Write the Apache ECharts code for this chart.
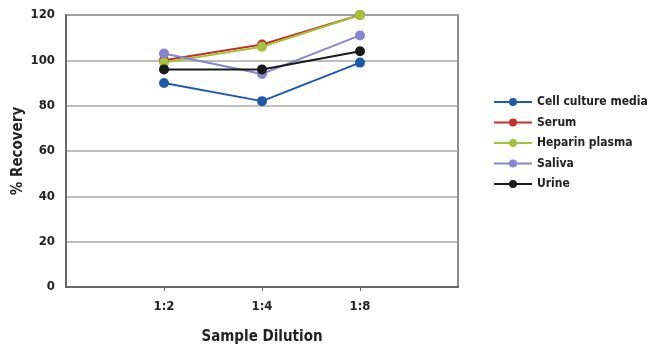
<!DOCTYPE html>
<html><head><meta charset="utf-8">
<script src="https://cdn.jsdelivr.net/npm/echarts@6/dist/echarts.min.js"></script>
<style>html,body{margin:0;padding:0;background:#fff}#c{width:650px;height:355px}</style>
</head><body><div id="c"></div>
<script>
const categories = ['', '1:2', '1:4', '1:8', ''];
const seriesNames = ['Cell culture media', 'Serum', 'Heparin plasma', 'Saliva', 'Urine'];
const cellCulture = [null, 90, 82, 99, null];
const serum = [null, 100, 107, 120, null];
const heparin = [null, 99, 106, 120, null];
const saliva = [null, 103, 94, 111, null];
const urine = [null, 96, 96, 104, null];
const yTicks = [0, 20, 40, 60, 80, 100, 120];
const colors = ['#1f5aa6', '#c0312b', '#a6c23a', '#8585cc', '#1a1a1a'];
const allData = [cellCulture, serum, heparin, saliva, urine];
const FONT = '"Liberation Sans Narrow", "DejaVu Sans Condensed", sans-serif';

const chart = echarts.init(document.getElementById('c'));
chart.setOption({
  animation: false,
  textStyle: { fontFamily: FONT },
  grid: { left: 66, top: 15, width: 392, height: 272, containLabel: false, outerBoundsMode: 'none',
    show: true, borderColor: '#666', borderWidth: 1.5, backgroundColor: 'transparent' },
  legend: {
    orient: 'vertical', left: 488, top: 91,
    itemWidth: 38, itemHeight: 10, itemGap: 8.5,
    textStyle: { fontFamily: FONT, fontWeight: 'bold', fontSize: 12, color: '#222' },
    data: seriesNames
  },
  xAxis: {
    type: 'category', data: categories, boundaryGap: false,
    name: 'Sample Dilution', nameLocation: 'middle', nameGap: 43, nameMoveOverlap: false,
    nameTextStyle: { fontFamily: FONT, fontWeight: 'bold', fontSize: 15, color: '#222' },
    axisLine: { lineStyle: { color: '#666', width: 2 } },
    axisTick: { show: true, length: 4, inside: false, interval: (i, v) => v !== '', lineStyle: { color: '#666' } },
    axisLabel: { interval: 0, fontFamily: FONT, fontWeight: 'bold', fontSize: 13, color: '#222', margin: 13 },
    splitLine: { show: false }
  },
  yAxis: {
    type: 'value', min: 0, max: 120, interval: 20,
    name: '% Recovery', nameLocation: 'middle', nameGap: 40, nameRotate: 90, nameMoveOverlap: false,
    nameTextStyle: { fontFamily: FONT, fontWeight: 'bold', fontSize: 15, color: '#222' },
    axisLine: { show: true, lineStyle: { color: '#666', width: 2 } },
    axisTick: { show: false },
    axisLabel: { fontFamily: FONT, fontWeight: 'bold', fontSize: 13, color: '#222', margin: 11,
      formatter: v => yTicks.includes(v) ? String(v) : '' },
    splitLine: { show: true, lineStyle: { color: '#a8a8a8', width: 1.5 } }
  },
  series: seriesNames.map((n, i) => ({
    name: n, type: 'line', data: allData[i],
    symbol: 'circle', symbolSize: 10, connectNulls: false,
    itemStyle: { color: colors[i] },
    lineStyle: { color: colors[i], width: 2 }
  }))
});
</script></body></html>
